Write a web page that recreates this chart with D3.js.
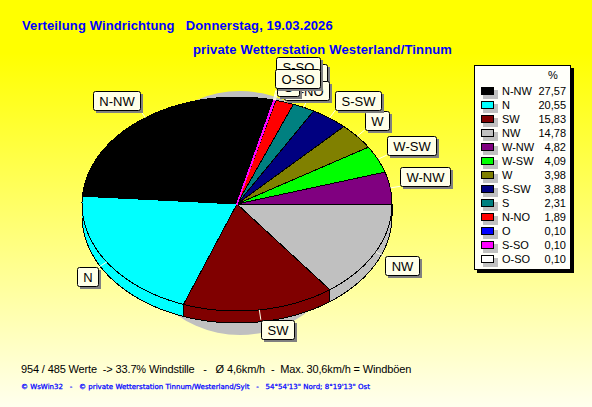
<!DOCTYPE html>
<html><head><meta charset="utf-8">
<script src="https://cdn.jsdelivr.net/npm/d3@7"></script>
<style>
html,body{margin:0;padding:0;background:#ffffe8}
svg{display:block}
text{font-family:"Liberation Sans",Arial,sans-serif;white-space:pre}
</style></head><body>
<div id="chart"></div>
<script>
const directions = ["N-NW","N","SW","NW","W-NW","W-SW","W","S-SW","S","N-NO","O","S-SO","O-SO"];
const shares = [27.57,20.55,15.83,14.78,4.82,4.09,3.98,3.88,2.31,1.89,0.10,0.10,0.10];
const shareLabels = ["27,57","20,55","15,83","14,78","4,82","4,09","3,98","3,88","2,31","1,89","0,10","0,10","0,10"];
const colours = ["#000000","#00ffff","#800000","#c0c0c0","#800080","#00ff00","#808000","#000080","#008080","#ff0000","#0000ff","#ff00ff","#ffffff"];
const title1 = "Verteilung Windrichtung   Donnerstag, 19.03.2026";
const title2 = "private Wetterstation Westerland/Tinnum";
const footer1 = "954 / 485 Werte  -> 33.7% Windstille   -   Ø 4,6km/h  -  Max. 30,6km/h = Windböen";
const footer2 = "© WsWin32   -   © private Wetterstation Tinnum/Westerland/Sylt   -   54°54'13\" Nord; 8°19'13\" Ost";

const W = 592, H = 407;
const svg = d3.select("#chart").append("svg").attr("width",W).attr("height",H);
const defs = svg.append("defs");
const grad = defs.append("linearGradient").attr("id","bg").attr("x1",0).attr("x2",0).attr("y1",0).attr("y2",1);
[[0,"#ffff00"],[0.13,"#ffff00"],[1,"#ffffee"]].forEach(s=>grad.append("stop").attr("offset",s[0]).attr("stop-color",s[1]));
svg.append("rect").attr("width",W).attr("height",H).attr("fill","url(#bg)");

const tb = svg.append("g").attr("fill","#0000ff").attr("font-weight","bold").attr("font-size",13);
tb.append("text").attr("x",22).attr("y",30).attr("letter-spacing",0.11).text(title1);
tb.append("text").attr("x",193).attr("y",54).attr("letter-spacing",0.16).text(title2);

// Pie geometry
const cx=237, cy=204, rx=155, ry=107, depth=12, lead=10;
const px = d3.scaleLinear().domain([-1,1]).range([cx-rx,cx+rx]);
const py = d3.scaleLinear().domain([-1,1]).range([cy+ry,cy-ry]);
const total = d3.sum(shares);
const leading = d3.sum(shares.slice(4));           // slices that sit between east and N-NW
const start = leading/total*2*Math.PI;
const pie = d3.pie().sort(null).startAngle(start).endAngle(start+2*Math.PI);
const arcs = pie(shares).map((a,i)=>({...a,i}));
const line = d3.line().x(d=>d[0]).y(d=>d[1]);
const pt = (t,dy=0)=>[px(Math.cos(t)),py(Math.sin(t))+dy];
const samples = (a,b)=>{const n=Math.max(2,Math.ceil(Math.abs(b-a)/0.02));return d3.range(n+1).map(k=>a+(b-a)*k/n);};

// drop shadow
svg.append("ellipse").attr("cx",240).attr("cy",213).attr("rx",115).attr("ry",122).attr("fill","#c0c0c0");

const pieG = svg.append("g").attr("stroke","#000").attr("stroke-width",1).attr("shape-rendering","crispEdges").attr("stroke-linejoin","round");
// front wall
arcs.forEach(a=>{
  const lo=Math.max(a.startAngle,Math.PI), hi=Math.min(a.endAngle,2*Math.PI);
  const lo2=Math.max(a.startAngle,3*Math.PI), hi2=Math.min(a.endAngle,4*Math.PI);
  [[lo,hi],[lo2,hi2]].forEach(([l,h])=>{
    if(h<=l) return;
    const s=samples(l,h);
    const pts=s.map(t=>pt(t)).concat(s.slice().reverse().map(t=>pt(t,depth)));
    pieG.append("path").attr("d",line(pts)+"Z").attr("fill",colours[a.i]);
  });
});
// top face
arcs.forEach(a=>{
  const s=samples(a.startAngle,a.endAngle);
  const pts=[[cx,cy]].concat(s.map(t=>pt(t)));
  const tiny=a.value<0.5;
  pieG.append("path").attr("d",line(pts)+"Z").attr("fill",tiny&&a.i!==11?"none":colours[a.i])
      .attr("stroke",tiny?(a.i===11?colours[a.i]:"none"):"#000")
      .attr("stroke-width",tiny?1.5:1);
});

// Labels: drawn counter-clockwise from east, later ones on top
const labelNudge = {"S":[-2,-15],"N-NO":[-4,7],"O":[-1,5],"S-SO":[-1,-14],"O-SO":[-1,-2]};
const order = d3.range(4,13).concat(d3.range(0,4));
const labG = svg.append("g");
order.forEach(i=>{
  const a=arcs[i], t=(a.startAngle+a.endAngle)/2;
  const c=Math.cos(t), s=Math.sin(t);
  const x0=cx+rx*c, y0=cy-ry*s, x1=cx+(rx+lead)*c, y1=cy-(ry+lead)*s;
  labG.append("line").attr("x1",x0).attr("y1",y0).attr("x2",x1).attr("y2",y1).attr("stroke","#ffffe8").attr("stroke-width",1);
  const g=labG.append("g");
  const tx=g.append("text").attr("font-size",13).attr("fill","#000").text(directions[i]);
  const w=Math.round(tx.node().getComputedTextLength())+12, h=19;
  const n=labelNudge[directions[i]]||[0,0];
  const bx=Math.round((c>=0?x1:x1-w)+n[0]), by=Math.round((s>=0?y1-h:y1)+n[1]);
  g.insert("rect","text").attr("x",bx+3).attr("y",by+3).attr("width",w).attr("height",h).attr("fill","#808080");
  g.insert("rect","text").attr("x",bx+.5).attr("y",by+.5).attr("width",w).attr("height",h).attr("rx",2).attr("fill","#ffffe8").attr("stroke","#000");
  tx.attr("x",bx+w/2+.5).attr("y",by+15).attr("text-anchor","middle");
});

// Legend
const lg = svg.append("g");
lg.append("rect").attr("x",477).attr("y",68).attr("width",97).attr("height",205).attr("fill","#000");
lg.append("rect").attr("x",474.5).attr("y",65.5).attr("width",96).attr("height",204).attr("fill","#fffffa").attr("stroke","#000");
lg.append("text").attr("x",553).attr("y",79).attr("font-size",11).attr("text-anchor","middle").text("%");
const rowY = d3.scalePoint().domain(directions).range([91,259]);
const rows = lg.selectAll("g.row").data(directions).join("g").attr("class","row").attr("transform",d=>`translate(0,${rowY(d)})`);
rows.append("rect").attr("x",483).attr("y",-1).attr("width",15).attr("height",9).attr("fill","#c0c0c0");
rows.append("rect").attr("x",481.5).attr("y",-3.5).attr("width",12).attr("height",7).attr("fill",(d,i)=>colours[i]).attr("stroke","#000");
rows.append("text").attr("x",502).attr("y",4).attr("font-size",11).text(d=>d);
rows.append("text").attr("x",566).attr("y",4).attr("font-size",11).attr("text-anchor","end").text((d,i)=>shareLabels[i]);

// Footer
svg.append("text").attr("x",21).attr("y",373).attr("font-size",11).attr("letter-spacing",-0.14).attr("fill","#000").text(footer1);
svg.append("text").attr("x",21).attr("y",389).attr("font-size",7).attr("fill","#0000ff").attr("stroke","#0000ff").attr("stroke-width",0.25).style("font-family","'DejaVu Sans'").attr("textLength",349).attr("lengthAdjust","spacing").text(footer2);
</script>
</body></html>
